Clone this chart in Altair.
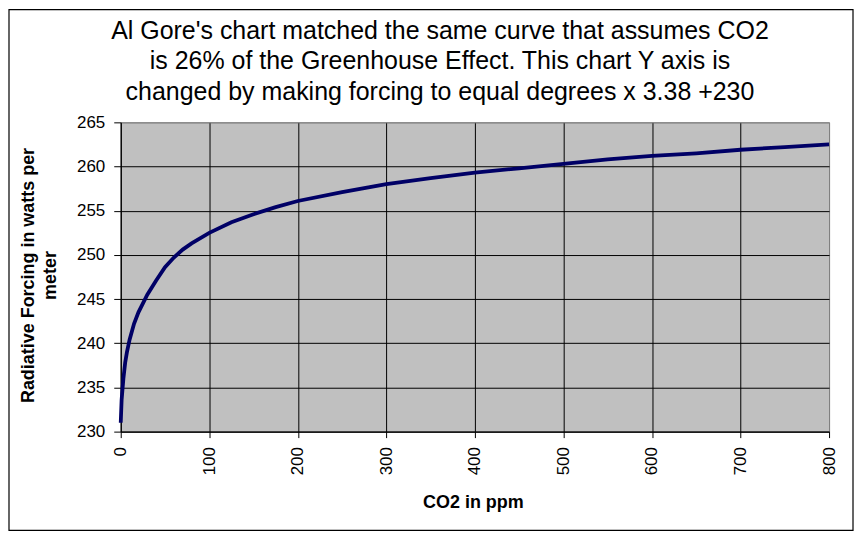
import altair as alt
import pandas as pd

co2_ppm = [0, 1, 2, 3, 5, 7, 10, 15, 20, 30, 40, 50, 60, 70, 80, 100, 125, 150,
           175, 200, 250, 300, 350, 400, 450, 500, 550, 600, 650, 700, 750, 800]
forcing = [231.0, 233.6, 234.8, 236.0, 237.8, 239.0, 240.4, 242.2, 243.5, 245.5,
           247.1, 248.6, 249.7, 250.6, 251.3, 252.5, 253.7, 254.6, 255.4, 256.1,
           257.1, 258.0, 258.7, 259.3, 259.8, 260.3, 260.8, 261.2, 261.5, 261.9,
           262.2, 262.5]
x_ticks = [0, 100, 200, 300, 400, 500, 600, 700, 800]
y_ticks = [230, 235, 240, 245, 250, 255, 260, 265]
title_lines = [
    "Al Gore's chart matched the same curve that assumes CO2",
    "is 26% of the Greenhouse Effect. This chart Y axis is",
    "changed by making forcing to equal degrees x 3.38 +230",
]
y_title = ["Radiative Forcing in watts per", "meter"]
x_title = "CO2 in ppm"

df = pd.DataFrame({"co2": co2_ppm, "forcing": forcing})

FONT = "Liberation Sans"

line = alt.Chart(df).mark_line(color="#000066", strokeWidth=3.8).encode(
    x=alt.X(
        "co2:Q",
        scale=alt.Scale(domain=[0, 800], nice=False),
        axis=alt.Axis(
            values=x_ticks, labelAngle=-90, title=x_title,
            labelFont=FONT, labelFontSize=17, labelColor="black", labelPadding=9,
            tickSize=6, tickColor="black", domainColor="black",
            gridColor={"condition": {"test": "datum.value === 800", "value": "#808080"}, "value": "black"},
            titleFont=FONT, titleFontSize=18, titleFontWeight="bold", titleColor="black",
            titleX=353, titleY=71, titleBaseline="middle", titleAlign="center",
        ),
    ),
    y=alt.Y(
        "forcing:Q",
        scale=alt.Scale(domain=[230, 265], nice=False, zero=False),
        axis=alt.Axis(
            values=y_ticks, title=y_title,
            labelFont=FONT, labelFontSize=17, labelColor="black", labelPadding=9,
            tickSize=7, tickColor="black", domainColor="black",
            gridColor={"condition": {"test": "datum.value === 265", "value": "#808080"}, "value": "black"},
            titleFont=FONT, titleFontSize=18, titleFontWeight="bold", titleColor="black",
            titleAngle=-90, titleX=-92, titleY=153, titleBaseline="middle",
            titleAlign="center", titleLineHeight=22,
        ),
    ),
)

one = pd.DataFrame({"a": [0]})

frame = alt.Chart(one).mark_rect(
    fillOpacity=0, stroke="black", strokeWidth=1.2, clip=False
).encode(
    x=alt.value(-112), x2=alt.value(734), y=alt.value(-113), y2=alt.value(409)
)

title_layers = []
for txt, yy in zip(title_lines, [-84, -53, -22]):
    title_layers.append(
        alt.Chart(one).mark_text(
            font=FONT, fontSize=25, color="black", align="center",
            baseline="alphabetic", clip=False,
        ).encode(x=alt.value(320), y=alt.value(yy), text=alt.value(txt))
    )

chart = alt.layer(line, frame, *title_layers).properties(
    width=710,
    height=310,
    background="white",
    padding={"left": 113, "top": 114, "right": 26, "bottom": 100},
    autosize=alt.AutoSizeParams(type="none"),
).configure_view(
    fill="#C0C0C0", stroke="#808080", strokeWidth=1
)

chart.save("out.html", embed_options={"renderer": "svg", "actions": False})
